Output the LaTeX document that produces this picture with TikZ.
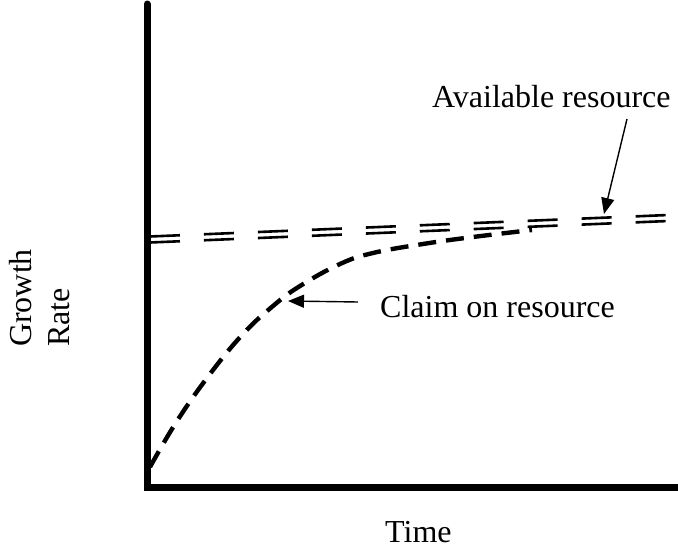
\documentclass[tikz,border=0pt]{standalone}
\usepackage{fontspec}
\setmainfont{Liberation Serif}
\usetikzlibrary{arrows.meta}
\begin{document}
\begin{tikzpicture}[x=1pt,y=-1pt,
  axis/.style={line width=7pt, line join=miter},
  resource/.style={line width=2.6pt, dash pattern=on 30pt off 24pt},
  claim/.style={line width=4.4pt, dash pattern=on 18pt off 10pt},
  pointer/.style={line width=1.4pt, -{Triangle[length=16pt,width=13pt]}},
  lbl/.style={font=\fontsize{32}{37}\selectfont, inner sep=0pt}]
\useasboundingbox (0,0) rectangle (678,549);

% axes
\draw[axis, line cap=round] (147,4) -- (147,487) -- (678,487);

% available resource: a pair of parallel dashed lines
\draw[resource] (150,236.5) -- (678,214.6);
\draw[resource] (150,242.5) -- (678,220.6);

% claim on resource: saturating dashed curve
\draw[claim] plot[smooth, tension=0.7] coordinates {
  (150,467) (177,421) (210,374) (243,334) (273,306) (300,286)
  (340,264) (373,253) (423,244) (473,237) (532,230)};

% labels
\node[lbl, anchor=base west] (avail) at (432,107) {Available resource};
\node[lbl, anchor=base west] (claimlbl) at (380,317) {Claim on resource};
\node[lbl, anchor=base west] (timelbl) at (385,542) {Time};
\node[lbl, rotate=90, anchor=base west] (growth) at (31.5,347) {Growth};
\node[lbl, rotate=90, anchor=base west] (rate) at (69,347) {Rate};

% pointers
\coordinate (availtail) at (627,119);
\coordinate (availtip) at (604,214);
\coordinate (claimtail) at (358,302);
\coordinate (claimtip) at (288,301);
\draw[pointer] (availtail) -- (availtip);
\draw[pointer] (claimtail) -- (claimtip);
\end{tikzpicture}
\end{document}
